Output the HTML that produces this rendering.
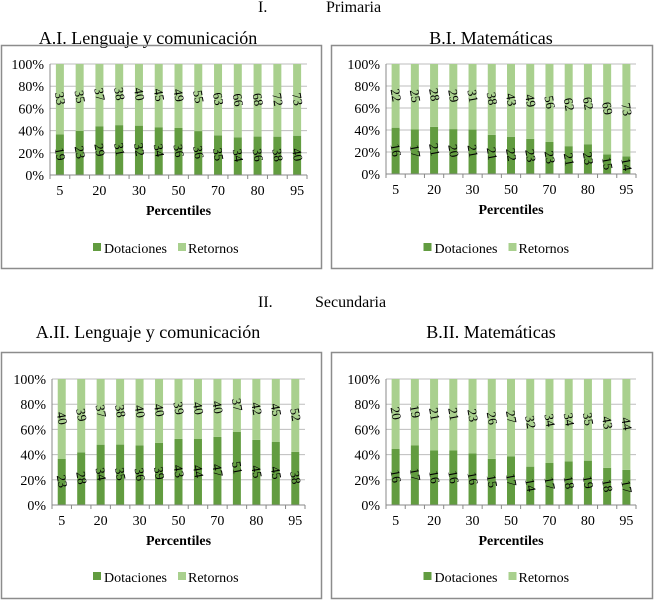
<!DOCTYPE html>
<html><head><meta charset="utf-8"><style>
body{margin:0;background:#fff;width:654px;height:601px;overflow:hidden}
svg{display:block}
svg text{font-family:"Liberation Serif","DejaVu Serif",serif}
</style></head><body>
<svg id="s" width="654" height="601" xmlns="http://www.w3.org/2000/svg">
<text x="258" y="12" font-size="16">I.</text>
<text x="326" y="12" font-size="16">Primaria</text>
<text x="258" y="307" font-size="16">II.</text>
<text x="315" y="307" font-size="16">Secundaria</text>
</svg>
<script>
const categories=["5","10","20","25","30","40","50","60","70","75","80","90","95"];
const tickLabels=["5","","20","","30","","50","","70","","80","","95"];
const aiDot=[19,23,29,31,32,34,36,36,35,34,36,38,40];
const aiRet=[33,35,37,38,40,45,49,55,63,66,68,72,73];
const biDot=[16,17,21,20,21,21,22,23,23,21,23,15,14];
const biRet=[22,25,28,29,31,38,43,49,56,62,62,69,73];
const aiiDot=[23,28,34,35,36,39,43,44,47,51,45,45,38];
const aiiRet=[40,39,37,38,40,40,39,40,40,37,42,45,52];
const biiDot=[16,17,16,16,16,15,17,14,17,18,19,18,17];
const biiRet=[20,19,21,21,23,26,27,32,34,34,35,43,44];
const yTicks=[0,20,40,60,80,100];
const panels=[
 {name:"a-i",title:"A.I. Lenguaje y comunicación",dot:aiDot,ret:aiRet,bx:1,by:45,bw:320,bh:223,px0:50,px1:307,py0:175,py1:64,tx:148,ty:44,ly:249},
 {name:"b-i",title:"B.I. Matemáticas",dot:biDot,ret:biRet,bx:331,by:45,bw:321,bh:223,px0:386,px1:636,py0:174,py1:64,tx:491,ty:44,ly:249},
 {name:"a-ii",title:"A.II. Lenguaje y comunicación",dot:aiiDot,ret:aiiRet,bx:1,by:352,bw:320,bh:246,px0:52,px1:305,py0:505,py1:379,tx:148,ty:338,ly:578},
 {name:"b-ii",title:"B.II. Matemáticas",dot:biiDot,ret:biiRet,bx:331,by:352,bw:321,bh:246,px0:386,px1:636,py0:505,py1:379,tx:491,ty:338,ly:578}
];
const NS="http://www.w3.org/2000/svg";
const svg=document.getElementById('s');
function mk(tag,attrs,parent){const e=document.createElementNS(NS,tag);for(const k in attrs)e.setAttribute(k,attrs[k]);(parent||svg).appendChild(e);return e;}
const DARK="#629c40",LIGHT="#a9d08e";
panels.forEach(p=>{
 const g=mk('g',{});
 
 
 const t=mk('text',{x:p.tx,y:p.ty,'font-size':18,'text-anchor':'middle'},g);t.textContent=p.title;
 
 
 const box=mk('rect',{x:p.bx+0.5,y:p.by+0.5,width:p.bw,height:p.bh,fill:'none',stroke:'#8c8c8c','stroke-width':1.5},g);
 
 
 const n=categories.length,step=(p.px1-p.px0)/n;
 const yS=v=>p.py0-(p.py0-p.py1)*v/100;
 const xS=i=>p.px0+step*(i+0.5);
 yTicks.forEach(v=>{
  const y=yS(v);
  const gl=mk('line',{x1:p.px0,x2:p.px1,y1:y,y2:y,stroke:'#bdbdbd','stroke-width':1},g);
  
  
  const tl=mk('text',{x:p.px0-6,y:y+5,'font-size':14,'text-anchor':'end'},g);tl.textContent=v+'%';
  
  
 });
 mk('line',{x1:p.px0,x2:p.px0,y1:p.py1,y2:p.py0,stroke:'#888'},g);
 categories.forEach((c,i)=>{
  const d=p.dot[i],r=p.ret[i],tot=d+r,dp=d/tot*100;
  const bw=8,x=xS(i)-bw/2;
  const bd=mk('rect',{x:x,y:yS(dp),width:bw,height:yS(0)-yS(dp),fill:DARK},g);
  
  
  const br=mk('rect',{x:x,y:yS(100),width:bw,height:yS(dp)-yS(100),fill:LIGHT},g);
  
  
  const ld=mk('text',{x:0,y:0,'font-size':13,'text-anchor':'middle',transform:`translate(${xS(i)-4},${yS(dp/2)}) rotate(80)`},g);ld.textContent=d;
  
  
  const lr=mk('text',{x:0,y:0,'font-size':13,'text-anchor':'middle',transform:`translate(${xS(i)-4},${yS(dp+(100-dp)/2)}) rotate(80)`},g);lr.textContent=r;
  
  
 });
 mk('line',{x1:p.px0,x2:p.px1,y1:p.py0,y2:p.py0,stroke:'#888'},g);
 for(let i=0;i<=n;i+=1){const x=p.px0+step*i;mk('line',{x1:x,x2:x,y1:p.py0,y2:p.py0+4,stroke:'#888'},g);}
 tickLabels.forEach((tl,i)=>{if(!tl)return;
  const e=mk('text',{x:xS(i),y:p.py0+20,'font-size':14,'text-anchor':'middle'},g);e.textContent=tl;
  
  
 });
 const xt=mk('text',{x:(p.px0+p.px1)/2,y:p.py0+40,'font-size':14,'font-weight':'bold','text-anchor':'middle'},g);xt.textContent='Percentiles';
 
 
 const cx=p.bx+p.bw/2;
 const l1=mk('g',{},g);
 
 
 mk('rect',{x:cx-68,y:p.ly-6,width:8,height:8,fill:DARK},l1);
 const t1=mk('text',{x:cx-57,y:p.ly+4,'font-size':14},l1);t1.textContent='Dotaciones';
 const l2=mk('g',{},g);
 
 
 mk('rect',{x:cx+17,y:p.ly-6,width:8,height:8,fill:LIGHT},l2);
 const t2=mk('text',{x:cx+27,y:p.ly+4,'font-size':14},l2);t2.textContent='Retornos';
});
</script>
</body></html>
